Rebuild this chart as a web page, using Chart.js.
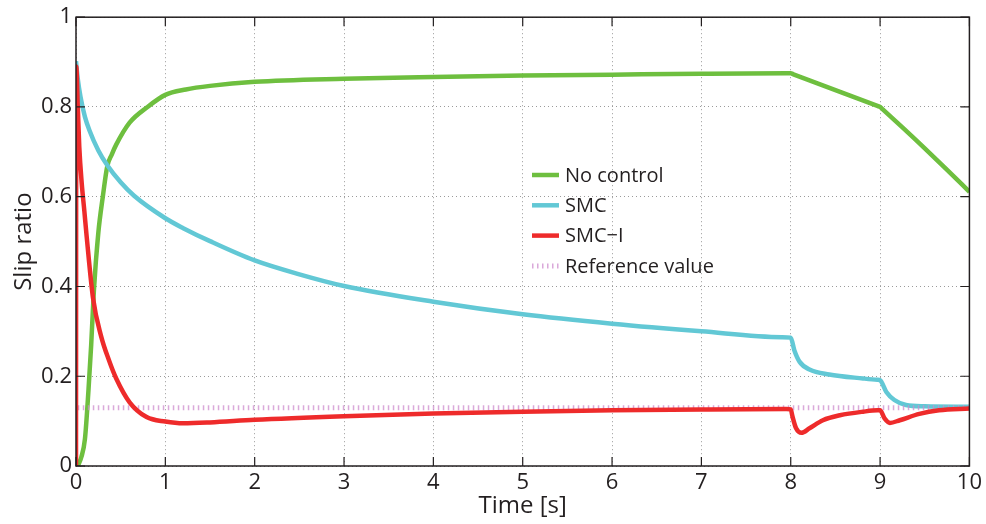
<!DOCTYPE html>
<html>
<head>
<meta charset="utf-8">
<script src="https://cdn.jsdelivr.net/npm/chart.js@4"></script>
<style>
html,body{margin:0;padding:0;background:#fff;}
#wrap{width:986px;height:524px;position:relative;}
</style>
</head>
<body>
<div id="wrap"><canvas id="c"></canvas></div>
<script>
// ---- Data ----
const seriesLabels = ['No control', 'SMC', 'SMC\u2212I', 'Reference value'];

const tNoControl = [0.02, 0.06, 0.1, 0.14, 0.17, 0.2, 0.25, 0.3, 0.35, 0.4, 0.45, 0.6, 0.8, 1.0, 1.23, 1.5, 2, 3, 4, 5, 6, 7, 7.95, 8.0, 8.03, 8.5, 8.97, 9.0, 9.03, 9.25, 9.5, 9.75, 10];
const noControl  = [0.0, 0.02, 0.06, 0.17, 0.27, 0.39, 0.52, 0.60, 0.668, 0.694, 0.716, 0.765, 0.80, 0.827, 0.839, 0.847, 0.856, 0.863, 0.867, 0.870, 0.872, 0.874, 0.875, 0.875, 0.8728, 0.8375, 0.8022, 0.80, 0.7946, 0.7545, 0.7078, 0.6598, 0.611];

const tSMC = [0, 0.02, 0.05, 0.1, 0.15, 0.25, 0.35, 0.5, 0.65, 1.0, 1.2, 1.5, 2, 2.5, 3, 4, 5, 6, 7, 7.9, 8.0, 8.04, 8.1, 8.21, 8.43, 8.81, 8.97, 9.0, 9.07, 9.16, 9.29, 9.5, 10];
const smc  = [0.902, 0.862, 0.823, 0.778, 0.748, 0.703, 0.670, 0.632, 0.602, 0.552, 0.530, 0.501, 0.458, 0.427, 0.401, 0.366, 0.338, 0.317, 0.300, 0.287, 0.286, 0.258, 0.232, 0.215, 0.204, 0.195, 0.192, 0.191, 0.165, 0.147, 0.136, 0.133, 0.132];

const tSMCI = [0, 0.003, 0.02, 0.037, 0.064, 0.093, 0.12, 0.19, 0.28, 0.37, 0.45, 0.6, 0.79, 1.0, 1.2, 1.5, 2, 3, 4, 5, 6, 7, 7.95, 8.0, 8.02, 8.06, 8.12, 8.21, 8.36, 8.55, 8.81, 8.97, 9.0, 9.05, 9.11, 9.22, 9.44, 9.66, 10];
const smcI  = [0, 0.89, 0.80, 0.71, 0.63, 0.569, 0.51, 0.375, 0.29, 0.235, 0.195, 0.142, 0.109, 0.099, 0.095, 0.097, 0.103, 0.111, 0.117, 0.121, 0.124, 0.126, 0.127, 0.126, 0.11, 0.084, 0.074, 0.084, 0.102, 0.113, 0.121, 0.124, 0.124, 0.106, 0.096, 0.102, 0.116, 0.124, 0.128];

const tRef = [0.02, 10];
const refValue = [0.13, 0.13];

const xTickLabels = ['0','1','2','3','4','5','6','7','8','9','10'];
const yTickLabels = ['0','0.2','0.4','0.6','0.8','1'];

// ---- Build chart ----
const toXY = (t, v) => t.map((x, i) => ({x: x, y: v[i]}));
const FONT = "'Open Sans', 'Noto Sans', sans-serif";
const TXT = '#231f20';

const colors = ['#6ebf3f', '#62c8d5', '#ee2b2b', 'rgba(205,140,205,0.75)'];

const frame = {
  id: 'frame',
  afterDatasetsDraw(chart) {
    const {ctx, chartArea: a, scales} = chart;
    ctx.save();
    ctx.strokeStyle = '#231f20';
    ctx.lineWidth = 1.5;
    ctx.setLineDash([]);
    ctx.strokeRect(a.left, a.top, a.right - a.left, a.bottom - a.top);
    ctx.lineWidth = 1.2;
    const L = 9;
    scales.x.ticks.forEach(tk => {
      const px = scales.x.getPixelForValue(tk.value);
      ctx.beginPath();
      ctx.moveTo(px, a.bottom); ctx.lineTo(px, a.bottom - L);
      ctx.moveTo(px, a.top); ctx.lineTo(px, a.top + L);
      ctx.stroke();
    });
    scales.y.ticks.forEach(tk => {
      const py = scales.y.getPixelForValue(tk.value);
      ctx.beginPath();
      ctx.moveTo(a.left, py); ctx.lineTo(a.left + L, py);
      ctx.moveTo(a.right, py); ctx.lineTo(a.right - L, py);
      ctx.stroke();
    });
    ctx.restore();
  },
  afterDraw(chart) {
    const {ctx} = chart;
    ctx.save();
    const x0 = 532, x1 = 559, tx = 565;
    const rows = [175, 205.3, 235.6, 266];
    ctx.font = '20px ' + FONT;
    ctx.textBaseline = 'middle';
    ctx.fillStyle = TXT;
    chart.data.datasets.forEach((ds, i) => {
      const y = rows[i];
      ctx.beginPath();
      ctx.strokeStyle = ds.borderColor;
      ctx.lineWidth = ds.borderWidth;
      ctx.lineCap = 'butt';
      ctx.setLineDash(ds.borderDash || []);
      ctx.moveTo(x0, y); ctx.lineTo(x1, y);
      ctx.stroke();
      ctx.setLineDash([]);
      ctx.fillText(ds.label, tx, y + 1);
    });
    ctx.restore();
  }
};

new Chart(document.getElementById('c'), {
  type: 'line',
  data: {
    datasets: [
      {label: seriesLabels[0], data: toXY(tNoControl, noControl), borderColor: colors[0], borderWidth: 4.5, order: 3},
      {label: seriesLabels[1], data: toXY(tSMC, smc), borderColor: colors[1], borderWidth: 4.5, order: 2},
      {label: seriesLabels[2], data: toXY(tSMCI, smcI), borderColor: colors[2], borderWidth: 4.5, order: 0},
      {label: seriesLabels[3], data: toXY(tRef, refValue), borderColor: colors[3], borderWidth: 5, borderDash: [1.5, 3.5], borderCapStyle: 'butt', cubicInterpolationMode: 'default', tension: 0, order: 1}
    ]
  },
  options: {
    responsive: true,
    maintainAspectRatio: false,
    animation: false,
    layout: {padding: {left: 0, right: 16, top: 16, bottom: 0}},
    elements: {
      point: {radius: 0, hoverRadius: 0},
      line: {cubicInterpolationMode: 'monotone', fill: false, borderJoinStyle: 'round', borderCapStyle: 'butt'}
    },
    plugins: {legend: {display: false}, tooltip: {enabled: false}},
    scales: {
      x: {
        type: 'linear', min: 0, max: 10,
        afterFit: s => { s.height = 58; },
        ticks: {stepSize: 1, color: TXT, font: {family: FONT, size: 22}, padding: 4, maxRotation: 0,
                callback: (v, i) => xTickLabels[i]},
        grid: {color: '#9a9a9a', lineWidth: 1, drawTicks: false},
        border: {display: false, dash: [1, 3]},
        title: {display: true, text: 'Time [s]', color: TXT, font: {family: FONT, size: 24}, padding: {top: 0, bottom: 3}}
      },
      y: {
        type: 'linear', min: 0, max: 1,
        afterFit: s => { s.width = 76; },
        ticks: {stepSize: 0.2, color: TXT, font: {family: FONT, size: 22}, padding: 4,
                callback: (v, i) => yTickLabels[i]},
        grid: {color: '#9a9a9a', lineWidth: 1, drawTicks: false},
        border: {display: false, dash: [1, 3]},
        title: {display: true, text: 'Slip ratio', color: TXT, font: {family: FONT, size: 24}, padding: {top: 10, bottom: 0}}
      }
    }
  },
  plugins: [frame]
});
</script>
</body>
</html>
